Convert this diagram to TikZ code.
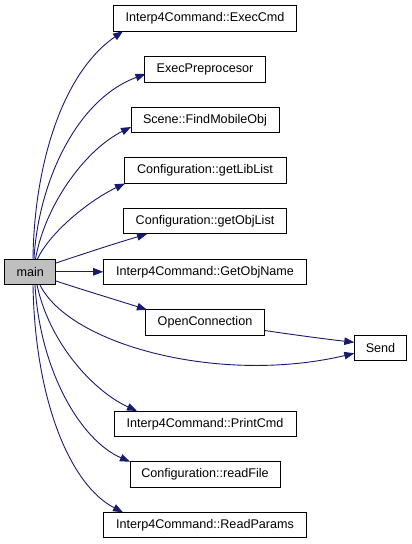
\documentclass[tikz,border=0pt]{standalone}
\usepackage{fontspec}
\setmainfont{Liberation Sans}
\usetikzlibrary{arrows.meta}
\definecolor{edgec}{HTML}{191970}
\tikzset{
  box/.style={draw=black, line width=1pt, fill=white, minimum height=25.5pt, inner sep=0pt,
    font=\fontsize{12.6}{14}\selectfont, text=black},
  edge/.style={draw=edgec, line width=0.9pt, -{Triangle[length=10pt,width=7.5pt]}}
}
\begin{document}
\begin{tikzpicture}[x=1pt,y=-1pt]
\useasboundingbox (0,0) rectangle (412,544);
\node[box, fill={rgb,255:red,191;green,191;blue,191}, minimum width=51.3pt] (main) at (30.3,271.8) {main};
\node[box, minimum width=182.6pt] (execcmd) at (205,18.5) {Interp4Command::ExecCmd};
\node[box, minimum width=120.6pt] (execpre) at (205,69.3) {ExecPreprocesor};
\node[box, minimum width=148pt] (findmob) at (205,120) {Scene::FindMobileObj};
\node[box, minimum width=162pt] (getlib) at (205,170.5) {Configuration::getLibList};
\node[box, minimum width=162.6pt] (getobj) at (205,221.2) {Configuration::getObjList};
\node[box, minimum width=202.6pt] (getobjname) at (205,271.8) {Interp4Command::GetObjName};
\node[box, minimum width=119.4pt] (openconn) at (205,322.5) {OpenConnection};
\node[box, minimum width=52.4pt] (send) at (380.5,348) {Send};
\node[box, minimum width=182pt] (printcmd) at (205,424) {Interp4Command::PrintCmd};
\node[box, minimum width=150pt] (readfile) at (205,474.5) {Configuration::readFile};
\node[box, minimum width=203.4pt] (readpar) at (205,525.2) {Interp4Command::ReadParams};

\coordinate (m1) at (33,259); \coordinate (m2) at (34,259); \coordinate (m3) at (35.5,259); \coordinate (m4) at (37.5,259);
\coordinate (m5) at (56,263); \coordinate (m7) at (56,281);
\coordinate (b1) at (33,285); \coordinate (b2) at (35,285); \coordinate (b3) at (37,285); \coordinate (b4) at (40,285);
\coordinate (e1) at (123,31.2); \coordinate (e2) at (145.5,74); \coordinate (e3) at (131,127);
\coordinate (e4) at (125,183.5); \coordinate (e5) at (147,234); \coordinate (e7) at (147,309.7);
\coordinate (e9) at (137,411); \coordinate (e10) at (130,461.7); \coordinate (e11) at (123,512.3);
\coordinate (s1) at (354.3,342.3); \coordinate (s2) at (354.3,353.3);
\coordinate (oc) at (264.7,330.5);

\draw[edge] (m1) .. controls (34,170) and (60,75) .. (e1);
\draw[edge] (m2) .. controls (38,185) and (75,100) .. (e2);
\draw[edge] (m3) .. controls (45,205) and (85,150) .. (e3);
\draw[edge] (m4) .. controls (50,232) and (90,200) .. (e4);
\draw[edge] (m5) .. controls (80,255) and (110,245) .. (e5);
\draw[edge] (main.east) -- (getobjname.west);
\draw[edge] (m7) .. controls (80,289) and (110,298) .. (e7);
\draw[edge] (oc) .. controls (295,335) and (325,339) .. (s1);
\draw[edge] (b4) .. controls (70,345) and (220,385) .. (s2);
\draw[edge] (b3) .. controls (50,345) and (95,392) .. (e9);
\draw[edge] (b2) .. controls (40,370) and (80,440) .. (e10);
\draw[edge] (b1) .. controls (35,400) and (70,485) .. (e11);
\end{tikzpicture}
\end{document}
